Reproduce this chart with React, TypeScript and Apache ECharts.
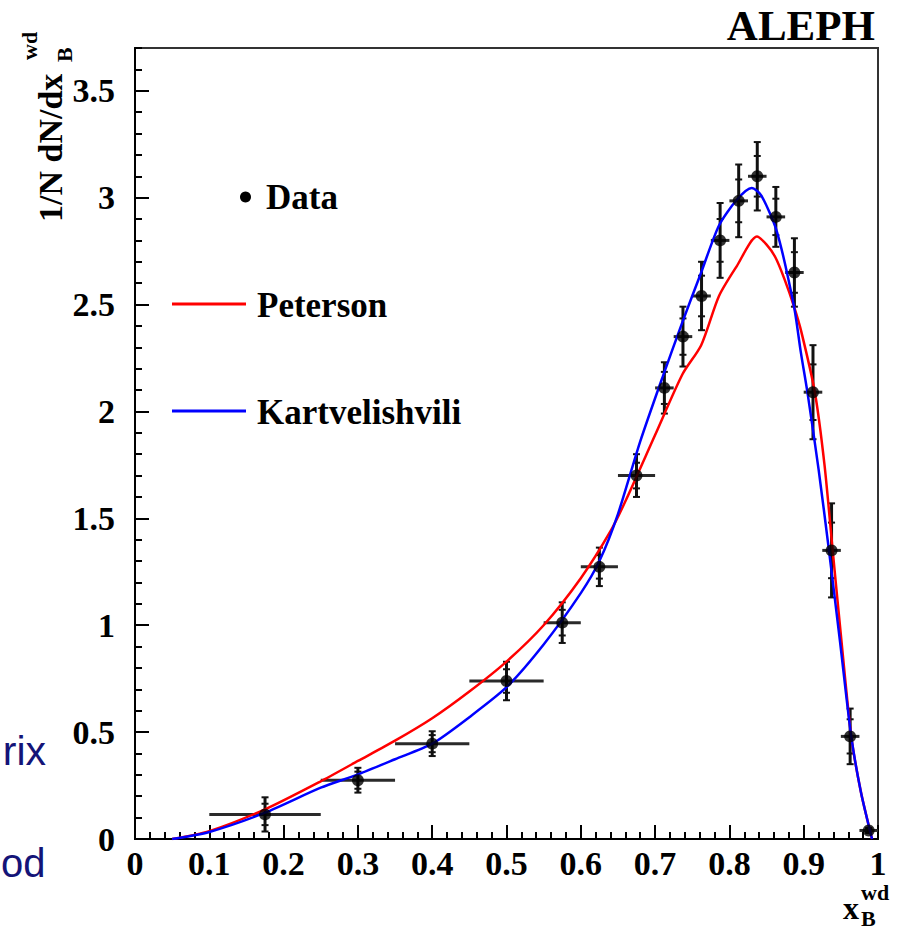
import { useEffect, useRef } from 'react';
import * as echarts from 'echarts';

// ---- Data points (ALEPH x_B^wd distribution) ----
const dataX = [0.175, 0.3, 0.4, 0.5, 0.575, 0.625, 0.675, 0.7125, 0.7375, 0.7625, 0.7875, 0.8125, 0.8375, 0.8625, 0.8875, 0.9125, 0.9375, 0.9625, 0.9875];
const dataY = [0.115, 0.275, 0.446, 0.739, 1.012, 1.273, 1.70, 2.11, 2.35, 2.54, 2.80, 2.985, 3.10, 2.91, 2.65, 2.09, 1.35, 0.48, 0.04];
const dataXErr = [0.075, 0.05, 0.05, 0.05, 0.025, 0.025, 0.025, 0.0125, 0.0125, 0.0125, 0.0125, 0.0125, 0.0125, 0.0125, 0.0125, 0.0125, 0.0125, 0.0125, 0.0125];
const dataYErrTot = [0.08, 0.058, 0.058, 0.09, 0.095, 0.09, 0.1, 0.12, 0.14, 0.16, 0.175, 0.17, 0.16, 0.14, 0.16, 0.22, 0.22, 0.13, 0.012];
const dataYErrStat = [0.05, 0.04, 0.04, 0.055, 0.06, 0.055, 0.06, 0.075, 0.085, 0.095, 0.1, 0.1, 0.095, 0.085, 0.095, 0.13, 0.13, 0.08, 0.008];

// ---- Peterson fit (red) ----
const petersonX = [0.05, 0.1, 0.175, 0.25, 0.3, 0.35, 0.4, 0.45, 0.5, 0.55, 0.6, 0.64, 0.66, 0.7, 0.737, 0.762, 0.786, 0.81, 0.837, 0.85, 0.862, 0.874, 0.887, 0.897, 0.915, 0.928, 0.939, 0.951, 0.964, 0.977, 0.992];
const petersonY = [0, 0.037, 0.139, 0.27, 0.365, 0.46, 0.565, 0.69, 0.83, 1.0, 1.22, 1.44, 1.58, 1.89, 2.175, 2.31, 2.54, 2.68, 2.818, 2.78, 2.72, 2.62, 2.49, 2.37, 2.09, 1.75, 1.35, 0.92, 0.48, 0.22, 0];

// ---- Kartvelishvili fit (blue) ----
const kartX = [0.05, 0.1, 0.175, 0.25, 0.3, 0.35, 0.4, 0.45, 0.5, 0.55, 0.6, 0.625, 0.65, 0.68, 0.711, 0.737, 0.762, 0.786, 0.81, 0.83, 0.843, 0.864, 0.887, 0.896, 0.905, 0.92, 0.934, 0.949, 0.964, 0.977, 0.992];
const kartY = [0, 0.033, 0.123, 0.24, 0.302, 0.373, 0.446, 0.57, 0.71, 0.91, 1.15, 1.30, 1.52, 1.86, 2.17, 2.42, 2.65, 2.87, 2.99, 3.045, 3.01, 2.84, 2.49, 2.28, 2.09, 1.73, 1.35, 0.92, 0.48, 0.22, 0];

// ---- Texts ----
const legendLabels = ['Data', 'Peterson', 'Kartvelishvili'];
const experimentLabel = 'ALEPH';
const yTitleMain = '1/N dN/dx';
const titleSub = 'B';
const titleSup = 'wd';
const xTitleMain = 'x';
const sideTexts = ['rix', 'od'];

const SERIF = "'Liberation Serif','Times New Roman',serif";
const SANS = "'Liberation Sans',Arial,sans-serif";

export default function App() {
  const ref = useRef<HTMLDivElement>(null);

  useEffect(() => {
    if (!ref.current) return;
    const chart = echarts.init(ref.current, undefined, { renderer: 'svg' });

    const tickStyle = { color: '#000', width: 2 };

    const option: any = {
      animation: false,
      backgroundColor: '#fff',
      grid: {
        left: 135, right: 25, top: 48, bottom: 92,
        show: true, borderColor: '#333', borderWidth: 2, backgroundColor: 'transparent',
      },
      xAxis: {
        type: 'value', min: 0, max: 1, interval: 0.1,
        axisLine: { show: true, onZero: false, lineStyle: { color: '#000', width: 2 } },
        axisTick: { show: true, inside: true, length: 14, lineStyle: tickStyle },
        minorTick: { show: true, splitNumber: 5, length: 7, lineStyle: tickStyle },
        splitLine: { show: false },
        minorSplitLine: { show: false },
        axisLabel: {
          margin: 7, color: '#000', fontFamily: SERIF, fontWeight: 'bold', fontSize: 34,
          formatter: (v: number) => String(Math.round(v * 10) / 10),
        },
      },
      yAxis: [
        {
          type: 'value', min: 0, max: 3.7, interval: 0.5,
          axisLine: { show: true, onZero: false, lineStyle: { color: '#000', width: 2 } },
          axisTick: { show: true, inside: true, length: 14, lineStyle: tickStyle },
          splitLine: { show: false },
          axisLabel: {
            margin: 20, color: '#000', fontFamily: SERIF, fontWeight: 'bold', fontSize: 34,
            showMaxLabel: false,
            formatter: (v: number) => String(Math.round(v * 10) / 10),
          },
        },
        {
          type: 'value', min: 0, max: 3.7, interval: 0.1, position: 'left',
          axisLine: { show: false },
          axisTick: { show: true, inside: true, length: 7, lineStyle: tickStyle },
          axisLabel: { show: false },
          splitLine: { show: false },
        },
      ],
      series: [
        {
          type: 'custom',
          xAxisIndex: 0, yAxisIndex: 0,
          silent: true, clip: true, z: 2,
          encode: { x: 0, y: 1 },
          data: dataX.map((x, i) => [x, dataY[i], dataXErr[i], dataYErrTot[i], dataYErrStat[i]]),
          renderItem: (params: any, api: any) => {
            const x = api.value(0), y = api.value(1), xe = api.value(2), te = api.value(3), se = api.value(4);
            const pL = api.coord([x - xe, y]);
            const pR = api.coord([x + xe, y]);
            const pT = api.coord([x, y + te]);
            const pB = api.coord([x, y - te]);
            const sT = api.coord([x, y + se]);
            const sB = api.coord([x, y - se]);
            const cw = 3.5;
            const st = { stroke: '#111', lineWidth: 3 };
            const ct = { stroke: '#111', lineWidth: 2 };
            return {
              type: 'group',
              children: [
                { type: 'line', shape: { x1: pL[0], y1: pL[1], x2: pR[0], y2: pR[1] }, style: { stroke: '#2a2a2a', lineWidth: 3 } },
                { type: 'line', shape: { x1: pT[0], y1: pT[1], x2: pB[0], y2: pB[1] }, style: st },
                { type: 'line', shape: { x1: pT[0] - cw, y1: pT[1], x2: pT[0] + cw, y2: pT[1] }, style: ct },
                { type: 'line', shape: { x1: pB[0] - cw, y1: pB[1], x2: pB[0] + cw, y2: pB[1] }, style: ct },
                { type: 'line', shape: { x1: sT[0] - cw, y1: sT[1], x2: sT[0] + cw, y2: sT[1] }, style: ct },
                { type: 'line', shape: { x1: sB[0] - cw, y1: sB[1], x2: sB[0] + cw, y2: sB[1] }, style: ct },
              ],
            };
          },
        },
        {
          name: legendLabels[1], type: 'line', xAxisIndex: 0, yAxisIndex: 0, z: 3,
          showSymbol: false, smooth: 0.25, silent: true,
          lineStyle: { color: '#ff0000', width: 2.5 },
          data: petersonX.map((x, i) => [x, petersonY[i]]),
        },
        {
          name: legendLabels[2], type: 'line', xAxisIndex: 0, yAxisIndex: 0, z: 3,
          showSymbol: false, smooth: 0.25, silent: true,
          lineStyle: { color: '#0000ff', width: 2.5 },
          data: kartX.map((x, i) => [x, kartY[i]]),
        },
        {
          name: legendLabels[0], type: 'scatter', xAxisIndex: 0, yAxisIndex: 0, z: 4,
          symbol: 'circle', symbolSize: 12, silent: true,
          itemStyle: { color: '#000' },
          data: dataX.map((x, i) => [x, dataY[i]]),
        },
      ],
      graphic: [
        { type: 'text', x: 875, y: 25, style: { text: experimentLabel, font: `bold 43px ${SERIF}`, fill: '#000', align: 'right', verticalAlign: 'middle' } },
        // legend
        { type: 'circle', shape: { cx: 245.5, cy: 197, r: 5.5 }, style: { fill: '#000' } },
        { type: 'text', x: 266, y: 197, style: { text: legendLabels[0], font: `bold 35px ${SERIF}`, fill: '#000', align: 'left', verticalAlign: 'middle' } },
        { type: 'line', shape: { x1: 172, y1: 304, x2: 246, y2: 304 }, style: { stroke: '#ff0000', lineWidth: 3 } },
        { type: 'text', x: 257, y: 305, style: { text: legendLabels[1], font: `bold 35px ${SERIF}`, fill: '#000', align: 'left', verticalAlign: 'middle' } },
        { type: 'line', shape: { x1: 172, y1: 411, x2: 246, y2: 411 }, style: { stroke: '#0000ff', lineWidth: 3 } },
        { type: 'text', x: 257, y: 412, style: { text: legendLabels[2], font: `bold 35px ${SERIF}`, fill: '#000', align: 'left', verticalAlign: 'middle' } },
        // y title
        { type: 'text', x: 50, y: 222, rotation: Math.PI / 2, style: { text: yTitleMain, font: `bold 34px ${SERIF}`, fill: '#000', align: 'left', verticalAlign: 'middle' } },
        { type: 'text', x: 64, y: 62, rotation: Math.PI / 2, style: { text: titleSub, font: `bold 22px ${SERIF}`, fill: '#000', align: 'left', verticalAlign: 'middle' } },
        { type: 'text', x: 29, y: 60, rotation: Math.PI / 2, style: { text: titleSup, font: `bold 22px ${SERIF}`, fill: '#000', align: 'left', verticalAlign: 'middle' } },
        // x title
        { type: 'text', x: 861, y: 892, style: { text: titleSup, font: `bold 22px ${SERIF}`, fill: '#000', align: 'left', verticalAlign: 'middle' } },
        { type: 'text', x: 843, y: 908, style: { text: xTitleMain, font: `bold 32px ${SERIF}`, fill: '#000', align: 'left', verticalAlign: 'middle' } },
        { type: 'text', x: 861, y: 918, style: { text: titleSub, font: `bold 22px ${SERIF}`, fill: '#000', align: 'left', verticalAlign: 'middle' } },
        // side slide fragments
        { type: 'text', x: 46, y: 751, style: { text: sideTexts[0], font: `41px ${SANS}`, fill: '#141478', align: 'right', verticalAlign: 'middle' } },
        { type: 'text', x: 45.5, y: 863, style: { text: sideTexts[1], font: `40px ${SANS}`, fill: '#141478', align: 'right', verticalAlign: 'middle' } },
      ],
    };

    chart.setOption(option);
    return () => chart.dispose();
  }, []);

  return (
    <div
      ref={ref}
      style={{ position: 'fixed', left: 0, top: 0, width: 903, height: 931, background: '#fff' }}
    />
  );
}
